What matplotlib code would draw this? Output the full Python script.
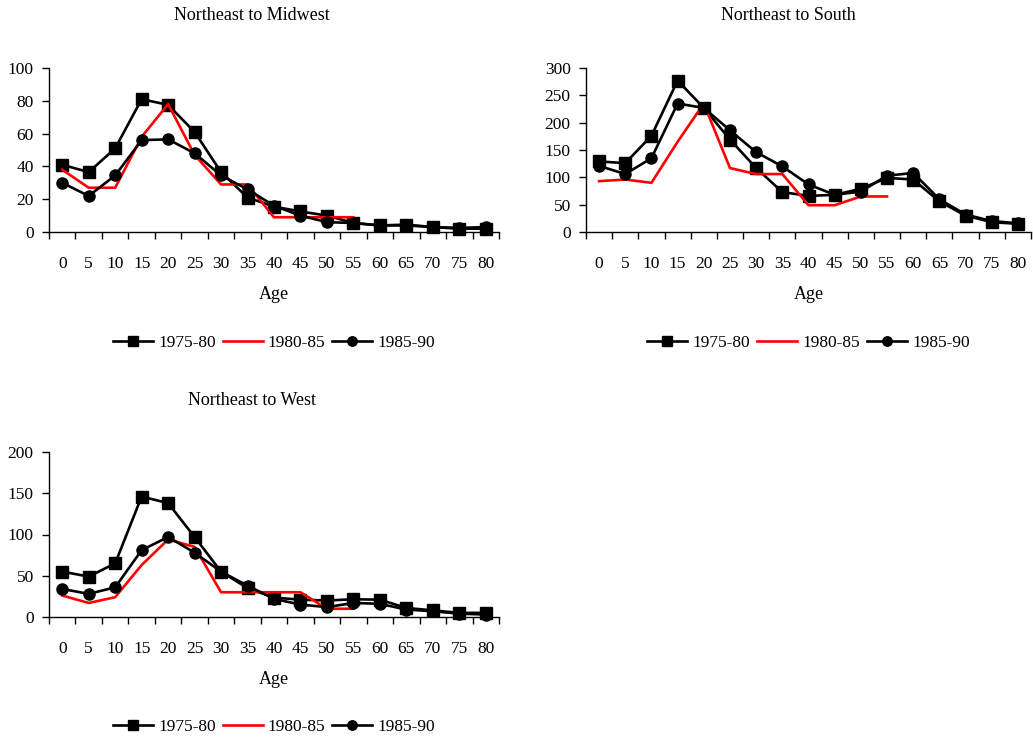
import matplotlib
matplotlib.use("Agg")
import matplotlib.pyplot as plt
import numpy as np

plt.rcParams["font.family"] = ["Liberation Serif", "DejaVu Serif"]

# ── DATA ──
ages = [0, 5, 10, 15, 20, 25, 30, 35, 40, 45, 50, 55, 60, 65, 70, 75, 80]
series_names = ["1975-80", "1980-85", "1985-90"]
nan = np.nan

midwest_7580 = [41, 36.5, 51, 81, 77.5, 61, 36.5, 21, 15.5, 12.5, 10, 5.5, 4, 4, 3, 2, 2]
midwest_8085 = [38, 27, 27, 58, 78, 47, 29, 29, 9, 9, 9, 9, nan, nan, nan, nan, nan]
midwest_8590 = [30, 22, 34.5, 56, 56.5, 48, 34.5, 26, 16, 10, 6, 5.5, 4, 4.5, 3, 2.5, 3]

south_7580 = [129, 126, 176, 277, 227, 169, 117, 73, 66, 68, 79, 99, 96, 56, 30, 18, 15]
south_8085 = [93, 96, 90, 165, 235, 117, 106, 106, 49, 49, 65, 65, nan, nan, nan, nan, nan]
south_8590 = [121, 106, 135, 235, 227, 186, 146, 120, 87, 68, 74, 103, 108, 60, 32, 20, 16]

west_7580 = [55, 49, 65, 146, 138, 97, 55, 35, 23.5, 21, 20, 21.5, 21, 11, 8, 5, 5]
west_8085 = [26, 17, 24, 63, 94, 85, 30, 30, 30, 30, 10, 10, nan, nan, nan, nan, nan]
west_8590 = [34, 28, 36, 81, 97, 78, 55, 38, 22, 15, 12, 17, 16, 9, 7, 4, 3]

W, H = 1033, 738
fig = plt.figure(figsize=(W / 100, H / 100), dpi=100)


def px(x0, y_top, x1, y_bot):
    return [x0 / W, 1 - y_bot / H, (x1 - x0) / W, (y_bot - y_top) / H]


def panel(rect, title, title_xy, age_y, legend_y, data, ymax, ystep):
    ax = fig.add_axes(rect)
    x = np.arange(len(ages))
    styles = [
        dict(color="black", marker="s", markersize=8, lw=1.9),
        dict(color="#ff0000", marker=None, lw=1.9),
        dict(color="black", marker="o", markersize=8, lw=1.9),
    ]
    for vals, name, st in zip(data, series_names, styles):
        ax.plot(x, vals, label=name, clip_on=False, **st)

    ax.set_xlim(-0.5, len(ages) - 0.5)
    ax.set_ylim(0, ymax)
    ax.set_yticks(np.arange(0, ymax + 1, ystep))
    ax.set_xticks(x)
    ax.set_xticklabels([str(a) for a in ages])
    ax.set_xticks(np.arange(-0.5, len(ages)), minor=True)
    ax.tick_params(axis="x", which="major", length=0, pad=17, labelsize=12.5)
    ax.tick_params(axis="x", which="minor", length=5, width=1, direction="out")
    ax.tick_params(axis="y", length=5, width=1, direction="out", pad=6, labelsize=12.5)
    for s in ["top", "right"]:
        ax.spines[s].set_visible(False)
    for s in ["left", "bottom"]:
        ax.spines[s].set_linewidth(1)

    fig.text(title_xy[0] / W, 1 - title_xy[1] / H, title, ha="center",
             va="baseline", fontsize=13)
    cx = (rect[0] + rect[2] / 2)
    fig.text(cx, 1 - age_y / H, "Age", ha="center", va="baseline", fontsize=13)
    fig.legend(*ax.get_legend_handles_labels(), loc="center",
               bbox_to_anchor=(cx, 1 - legend_y / H), ncol=3, frameon=False,
               fontsize=12.5, handlelength=2.3, handletextpad=0.3,
               columnspacing=0.4, borderaxespad=0, markerscale=0.85)
    return ax


panel(px(49, 68, 499, 232), "Northeast to Midwest", (252, 20), 299, 343,
      [midwest_7580, midwest_8085, midwest_8590], 100, 20)
panel(px(586, 68, 1031, 232), "Northeast to South", (788, 20), 299, 343,
      [south_7580, south_8085, south_8590], 300, 50)
panel(px(49, 452, 499, 617), "Northeast to West", (252, 405), 684, 727,
      [west_7580, west_8085, west_8590], 200, 50)

fig.savefig("out.png", dpi=100)
